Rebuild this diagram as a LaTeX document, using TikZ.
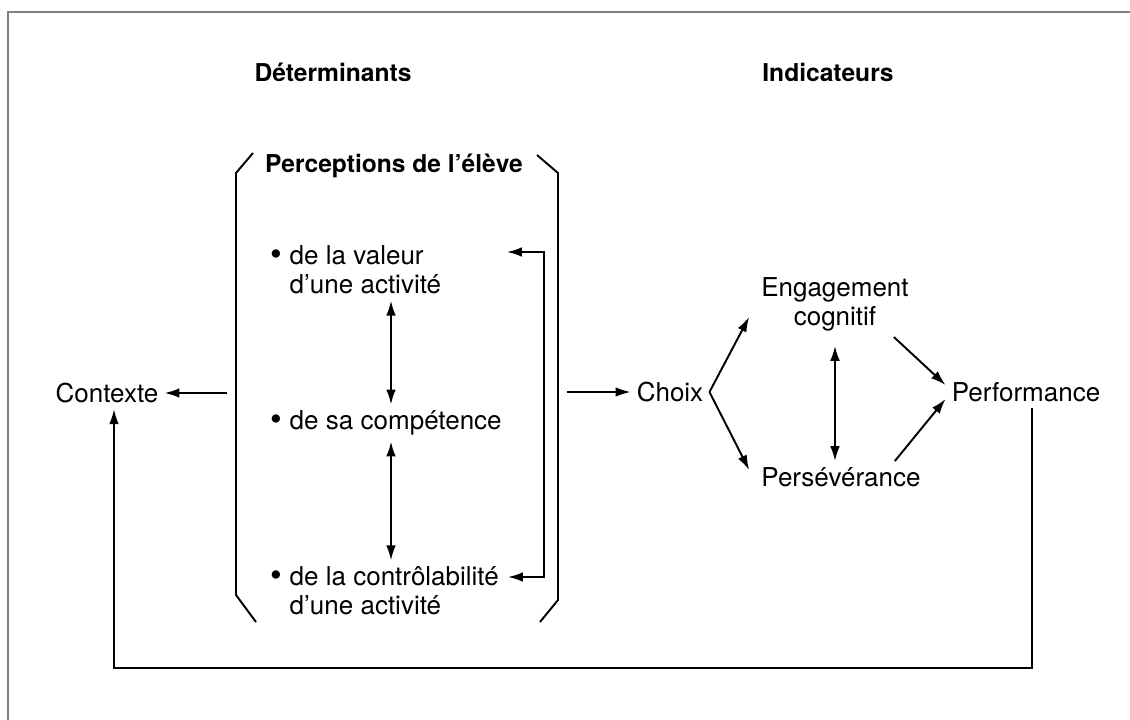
\documentclass[tikz,border=0pt]{standalone}
\usepackage{fontspec}
\setmainfont{TeX Gyre Heros}
\usetikzlibrary{arrows.meta}

\newcommand\puce{\makebox[0.75em][l]{\raisebox{-0.5pt}{\fontsize{19}{16.5}\selectfont•}}}

\begin{document}
\begin{tikzpicture}[x=0.02cm,y=-0.02cm,line width=1.1pt,
  >={Latex[length=8.5pt,width=5.5pt]},
  txt/.style={font=\fontsize{14.8}{16.5}\selectfont,inner sep=3pt},
  ttl/.style={font=\fontsize{14}{16}\selectfont\bfseries,inner sep=3pt}]

\useasboundingbox (0,0) rectangle (1130,720);

% cadre
\draw[gray,line width=1.2pt] (8,720)--(8,12)--(1130,12);

% titres
\node[ttl] (det) at (333,72) {Déterminants};
\node[ttl] (ind) at (828,72) {Indicateurs};

% perceptions
\node[ttl] (perc) at (394,166) {Perceptions de l’élève};
\draw (253,153)--(236,173)--(236,595)--(256,622);
\draw (537,155)--(558,173)--(558,600)--(540,622);

\node[txt,anchor=west,align=left] (val) at (264,270) {\puce de la valeur\\\phantom{\puce}d’une activité};
\node[txt,anchor=west] (comp) at (264,423) {\puce de sa compétence};
\node[txt,anchor=west,align=left] (ctr) at (264,591) {\puce de la contrôlabilité\\\phantom{\puce}d’une activité};

\coordinate (ax) at (391,0);
\draw[<->] (val.south -| ax) -- (comp.north -| ax);
\draw[<->] (comp.south -| ax) -- (ctr.north -| ax);

% retour a droite
\coordinate (valtip) at (507,252);
\coordinate (ctrtip) at (508,577);
\coordinate (fbR) at (544,415);
\draw[<->] (valtip) -| (fbR) |- (ctrtip);

% contexte
\node[txt] (ctx) at (107,393) {Contexte};
\coordinate (ctxin) at (227,393);
\draw[->] (ctxin) -- (ctx);

% indicateurs
\node[txt] (choix) at (670,392) {Choix};
\coordinate (choixin) at (567,392);
\draw[->] (choixin) -- (choix);

\node[txt,align=center] (eng) at (835,304) {Engagement\\cognitif};
\node[txt] (pers) at (841,477) {Persévérance};
\node[txt] (perf) at (1026,392) {Performance};

\draw[->] (choix.east) -- ([xshift=-0.12cm,yshift=-0.26cm]eng.west);
\draw[->] (choix.east) -- ([xshift=-0.12cm,yshift=0.14cm]pers.west);
\draw[->] ([xshift=-0.42cm]eng.south east) -- ([yshift=0.14cm]perf.west);
\draw[->] ([xshift=-0.64cm]pers.north east) -- ([yshift=-0.14cm]perf.west);
\draw[<->,shorten <=5pt] (eng.south) -- (eng.south |- pers.north);

% boucle
\coordinate (loopR) at (1032,668);
\coordinate (loopL) at (114,668);
\draw[->] (perf.south -| loopR) -- (loopR) -- (loopL) -- (ctx.south -| loopL);
\end{tikzpicture}
\end{document}
